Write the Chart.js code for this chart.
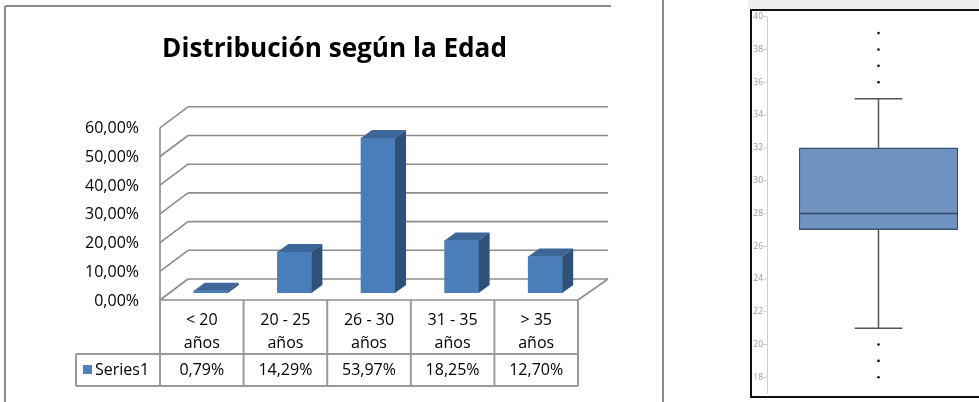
<!DOCTYPE html>
<html>
<head>
<meta charset="utf-8">
<script src="https://cdn.jsdelivr.net/npm/chart.js@4"></script>
<style>
	body { margin: 0; background: #fff; width: 979px; height: 402px; overflow: hidden; position: relative; }
	canvas { position: absolute; top: 0; }
	#edadChart { left: 0; }
	#boxChart { left: 740px; }
</style>
</head>
<body>
<canvas id="edadChart" width="740" height="402"></canvas>
<canvas id="boxChart" width="239" height="402"></canvas>
<script>
// left chart data
const ageGroups = [['< 20', 'años'], ['20 - 25', 'años'], ['26 - 30', 'años'], ['31 - 35', 'años'], ['> 35', 'años']];
const shares = [0.79, 14.29, 53.97, 18.25, 12.70];
const shareTicks = [0, 10, 20, 30, 40, 50, 60];
const seriesName = 'Series1';
const chartTitle = 'Distribución según la Edad';

// right chart data (box plot)
const boxLabel = ['Edad'];
const whiskerLow = 21;
const q1 = 27;
const median = 28;
const q3 = 32;
const whiskerHigh = 35;
const outliers = [18, 19, 20, 36, 37, 38, 39];
const boxTicks = [18, 20, 22, 24, 26, 28, 30, 32, 34, 36, 38, 40];

const FONT = '"Open Sans", "Liberation Sans", sans-serif';
const SHIFT = 9;      // bars sit a bit right of the table columns
const FRONT = 7;      // front floor edge below bar base
const BACK = 14;      // back wall above bar base
const DEPTH_L = 28;
const DEPTH_R = 30;
const BAR_DX = 11;
const BAR_DY = 8;

function pct(v) {
	return v.toFixed(2).replace('.', ',') + '%';
}

function line(ctx, x1, y1, x2, y2) {
	ctx.beginPath();
	ctx.moveTo(x1, y1);
	ctx.lineTo(x2, y2);
	ctx.stroke();
}

const edadPlugin = {
	id: 'edad3d',
	beforeDraw(chart) {
		const ctx = chart.ctx;
		ctx.save();
		ctx.strokeStyle = '#8c8c8c';
		ctx.lineWidth = 2;
		line(ctx, 5, 6, 611, 6);
		line(ctx, 5, 6, 5, 402);
		line(ctx, 663, 0, 663, 402);
		ctx.restore();
	},
	beforeDatasetsDraw(chart) {
		const { ctx, scales: { x, y } } = chart;
		const band = x.width / ageGroups.length;
		const left = x.getPixelForValue(0) - SHIFT - band / 2;
		const right = left + band * ageGroups.length;
		const base = y.getPixelForValue(0);
		ctx.save();
		ctx.strokeStyle = '#8c8c8c';
		ctx.lineWidth = 1.6;
		// back wall grid + left wall
		shareTicks.forEach(v => {
			const py = y.getPixelForValue(v);
			line(ctx, left, py + FRONT, left + DEPTH_L, py - BACK);
			line(ctx, left + DEPTH_L, py - BACK, right + DEPTH_R, py - BACK);
		});
		const top = y.getPixelForValue(shareTicks[shareTicks.length - 1]);
		line(ctx, left, top + FRONT, left, base + FRONT);
		// floor
		line(ctx, left, base + FRONT, right, base + FRONT);
		line(ctx, right, base + FRONT, right + DEPTH_R, base - BACK);
		ctx.restore();
	},
	afterDatasetsDraw(chart) {
		const ctx = chart.ctx;
		ctx.save();
		chart.getDatasetMeta(0).data.forEach(bar => {
			const { x, y, base, width } = bar.getProps(['x', 'y', 'base', 'width'], true);
			const l = x - width / 2;
			const r = x + width / 2;
			ctx.fillStyle = '#3d6597';
			ctx.beginPath();
			ctx.moveTo(l, y);
			ctx.lineTo(r, y);
			ctx.lineTo(r + BAR_DX, y - BAR_DY);
			ctx.lineTo(l + BAR_DX, y - BAR_DY);
			ctx.closePath();
			ctx.fill();
			ctx.fillStyle = '#2f5079';
			ctx.beginPath();
			ctx.moveTo(r, y);
			ctx.lineTo(r + BAR_DX, y - BAR_DY);
			ctx.lineTo(r + BAR_DX, base - BAR_DY);
			ctx.lineTo(r, base);
			ctx.closePath();
			ctx.fill();
		});
		ctx.restore();
	},
	afterDraw(chart) {
		const { ctx, scales: { x, y } } = chart;
		const band = x.width / ageGroups.length;
		const left = x.getPixelForValue(0) - SHIFT - band / 2;
		const right = left + band * ageGroups.length;
		const floor = y.getPixelForValue(0) + FRONT;
		const rowY = floor + 54;
		const bottomY = rowY + 32;
		const legendLeft = left - 84;
		ctx.save();

		// title
		ctx.font = 'bold 100px ' + FONT;
		const size = 100 * 345 / ctx.measureText(chartTitle).width;
		ctx.font = `bold ${size}px ${FONT}`;
		ctx.fillStyle = '#000';
		ctx.textAlign = 'center';
		ctx.textBaseline = 'alphabetic';
		ctx.fillText(chartTitle, 334.5, 57);

		// y labels
		ctx.font = '16px ' + FONT;
		ctx.textAlign = 'right';
		ctx.textBaseline = 'middle';
		shareTicks.forEach(v => {
			ctx.fillText(pct(v), left - 21, y.getPixelForValue(v) + FRONT + 1);
		});

		// data table
		ctx.strokeStyle = '#9a9a9a';
		ctx.lineWidth = 2;
		for (let k = 0; k <= ageGroups.length; k++) {
			const ex = left + band * k;
			line(ctx, ex, floor, ex, bottomY);
		}
		line(ctx, legendLeft, rowY, right, rowY);
		line(ctx, legendLeft, bottomY, right, bottomY);
		line(ctx, legendLeft, rowY, legendLeft, bottomY);

		ctx.textAlign = 'center';
		ageGroups.forEach((g, i) => {
			const cx = x.getPixelForValue(i) - SHIFT;
			ctx.fillText(g[0], cx, floor + 20);
			ctx.fillText(g[1], cx, floor + 43);
			ctx.fillText(pct(shares[i]), cx, rowY + 16);
		});
		ctx.fillStyle = '#4f81bd';
		ctx.fillRect(legendLeft + 7, rowY + 11, 9, 9);
		ctx.fillStyle = '#000';
		ctx.textAlign = 'left';
		ctx.fillText(seriesName, legendLeft + 19, rowY + 16);
		ctx.restore();
	}
};

new Chart(document.getElementById('edadChart'), {
	type: 'bar',
	data: {
		labels: ageGroups,
		datasets: [{
			label: seriesName,
			data: shares,
			backgroundColor: '#4a7ebb',
			barThickness: 34
		}]
	},
	options: {
		responsive: false,
		animation: false,
		events: [],
		layout: { padding: { left: 169, right: 153, top: 120.8, bottom: 109 } },
		plugins: { legend: { display: false }, tooltip: { enabled: false } },
		scales: {
			x: { display: false },
			y: { display: false, min: 0, max: 60 }
		}
	},
	plugins: [edadPlugin]
});

const boxPlugin = {
	id: 'boxplot',
	beforeDraw(chart) {
		const { ctx, scales: { y } } = chart;
		ctx.save();
		ctx.fillStyle = '#efefef';
		ctx.fillRect(8, 0, 239, 9);
		ctx.strokeStyle = '#111';
		ctx.lineWidth = 2;
		ctx.strokeRect(11, 10, 240, 387);
		// axis
		const axisX = 27;
		ctx.strokeStyle = '#cfcfcf';
		ctx.lineWidth = 1;
		line(ctx, axisX + 0.5, y.getPixelForValue(40), axisX + 0.5, y.getPixelForValue(y.min));
		ctx.font = '8.5px ' + FONT;
		ctx.fillStyle = '#9a9a9a';
		ctx.textAlign = 'right';
		ctx.textBaseline = 'middle';
		boxTicks.forEach(v => {
			const py = y.getPixelForValue(v);
			line(ctx, axisX - 4, py, axisX, py);
			ctx.fillText(String(v), axisX - 4, py);
		});
		ctx.restore();
	},
	beforeDatasetsDraw(chart) {
		const { ctx, scales: { x, y } } = chart;
		const cx = x.getPixelForValue(0);
		const half = x.width * 0.15;
		ctx.save();
		ctx.strokeStyle = '#555';
		ctx.lineWidth = 1.5;
		line(ctx, cx, y.getPixelForValue(q3), cx, y.getPixelForValue(whiskerHigh));
		line(ctx, cx, y.getPixelForValue(q1), cx, y.getPixelForValue(whiskerLow));
		line(ctx, cx - half, y.getPixelForValue(whiskerHigh), cx + half, y.getPixelForValue(whiskerHigh));
		line(ctx, cx - half, y.getPixelForValue(whiskerLow), cx + half, y.getPixelForValue(whiskerLow));
		ctx.restore();
	},
	afterDatasetsDraw(chart) {
		const { ctx, scales: { x, y } } = chart;
		ctx.save();
		ctx.strokeStyle = '#34486a';
		ctx.lineWidth = 1.5;
		line(ctx, x.left, y.getPixelForValue(median), x.right, y.getPixelForValue(median));
		ctx.restore();
	}
};

new Chart(document.getElementById('boxChart'), {
	type: 'bar',
	data: {
		labels: boxLabel,
		datasets: [{
			data: [[q1, q3]],
			backgroundColor: '#6f93c1',
			borderColor: '#3b5275',
			borderWidth: 1.5,
			borderSkipped: false,
			barPercentage: 1,
			categoryPercentage: 1
		}, {
			type: 'scatter',
			data: outliers.map(v => ({ x: boxLabel[0], y: v })),
			pointRadius: 1.3,
			pointBackgroundColor: '#111',
			pointBorderWidth: 0
		}]
	},
	options: {
		responsive: false,
		animation: false,
		events: [],
		layout: { padding: { left: 59, right: 21, top: 16.7, bottom: 8.3 } },
		plugins: { legend: { display: false }, tooltip: { enabled: false } },
		scales: {
			x: { type: 'category', display: false },
			y: { display: false, min: 17, max: 40 }
		}
	},
	plugins: [boxPlugin]
});
</script>
</body>
</html>
